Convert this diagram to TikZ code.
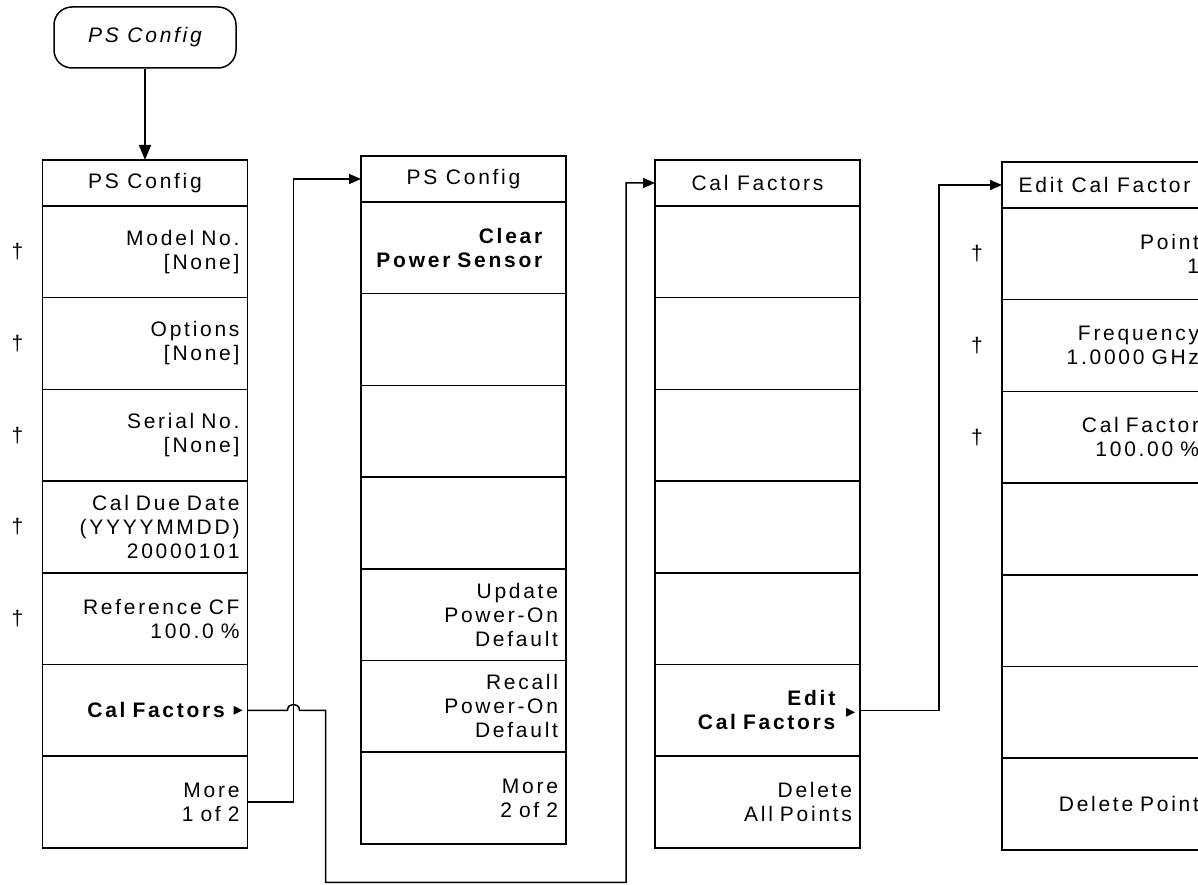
\documentclass[tikz,border=0pt]{standalone}
\usepackage{fontspec}
\setmainfont{Liberation Sans}[LetterSpace=13]
\usetikzlibrary{positioning,arrows.meta,calc}

\begin{document}
\begin{tikzpicture}[x=1pt, y=-1pt,
    startkey/.style={rectangle, draw=black, line width=1.5pt, rounded corners=18pt,
                     minimum width=182pt, minimum height=61pt,
                     font=\fontsize{21}{24}\selectfont\itshape},
    menuhead/.style={rectangle, draw=black, line width=1.5pt, outer sep=0pt, inner sep=0pt,
                     minimum width=205pt, minimum height=46pt,
                     font=\fontsize{21}{24}\selectfont},
    softkey/.style={rectangle, draw=black, line width=1.5pt, outer sep=0pt,
                    inner xsep=8pt, inner ysep=0pt, text width=189pt, minimum height=91.7pt,
                    align=right, font=\fontsize{21}{24}\selectfont},
    dagger/.style={inner sep=0pt, font=\fontsize{21}{24}\selectfont},
    arrow/.style={-{Triangle[length=12pt, width=10pt]}, line width=1.5pt},
    bigarrow/.style={-{Triangle[length=15pt, width=12pt]}, line width=1.5pt}
]
    \useasboundingbox (0,0) rectangle (1198,885);
    \clip (0,0) rectangle (1198,885);

    \node[startkey] (start) at (145,37.5) {PS Config};

    % PS Config, page 1
    \node[menuhead] (pA0) at (145,183) {PS Config};
    \node[softkey, below=0pt of pA0] (pA1) {Model No.\\{}[None]};
    \node[softkey, below=0pt of pA1] (pA2) {Options\\{}[None]};
    \node[softkey, below=0pt of pA2] (pA3) {Serial No.\\{}[None]};
    \node[softkey, below=0pt of pA3] (pA4) {Cal Due Date\\(YYYYMMDD)\\20000101};
    \node[softkey, below=0pt of pA4] (pA5) {Reference CF\\100.0 \%};
    \node[softkey, below=0pt of pA5] (pA6) {\textbf{Cal Factors}\rule{12pt}{0pt}};
    \node[softkey, below=0pt of pA6] (pA7) {More\\1 of 2};

    % PS Config, page 2
    \node[menuhead] (pB0) at (463.5,179) {PS Config};
    \node[softkey, below=0pt of pB0] (pB1) {\textbf{Clear}\rule{13pt}{0pt}\\\textbf{Power Sensor}\rule{13pt}{0pt}};
    \node[softkey, below=0pt of pB1] (pB2) {};
    \node[softkey, below=0pt of pB2] (pB3) {};
    \node[softkey, below=0pt of pB3] (pB4) {};
    \node[softkey, below=0pt of pB4] (pB5) {Update\\Power-On\\Default};
    \node[softkey, below=0pt of pB5] (pB6) {Recall\\Power-On\\Default};
    \node[softkey, below=0pt of pB6] (pB7) {More\\2 of 2};

    % Cal Factors
    \node[menuhead] (cf0) at (757.5,183) {Cal Factors};
    \node[softkey, below=0pt of cf0] (cf1) {};
    \node[softkey, below=0pt of cf1] (cf2) {};
    \node[softkey, below=0pt of cf2] (cf3) {};
    \node[softkey, below=0pt of cf3] (cf4) {};
    \node[softkey, below=0pt of cf4] (cf5) {};
    \node[softkey, below=0pt of cf5] (cf6) {\textbf{Edit}\rule{14pt}{0pt}\\\textbf{Cal Factors}\rule{14pt}{0pt}};
    \node[softkey, below=0pt of cf6] (cf7) {Delete\\All Points};

    % Edit Cal Factor
    \node[menuhead] (ed0) at (1104.5,185) {Edit Cal Factor};
    \node[softkey, below=0pt of ed0] (ed1) {Point\\1};
    \node[softkey, below=0pt of ed1] (ed2) {Frequency\\1.0000 GHz};
    \node[softkey, below=0pt of ed2] (ed3) {Cal Factor\\100.00 \%};
    \node[softkey, below=0pt of ed3] (ed4) {};
    \node[softkey, below=0pt of ed4] (ed5) {};
    \node[softkey, below=0pt of ed5] (ed6) {};
    \node[softkey, below=0pt of ed6] (ed7) {Delete Point};

    \foreach \k in {1,...,5}
        \node[dagger, left=19pt of pA\k] (dA\k) {†};
    \foreach \k in {1,...,3}
        \node[dagger, left=19pt of ed\k] (dE\k) {†};

    \fill ($(pA6.east)+(-5,0)$) -- ++(-9,-4.5) -- ++(0,9) -- cycle;
    \fill ($(cf6.east)+(-5,2)$) -- ++(-9,-4.5) -- ++(0,9) -- cycle;

    \draw[bigarrow] (start) -- (pA0);
    \draw[arrow] (pA7.east) -- ++(46,0) |- (pB0.west);
    \draw[arrow] (pA6.east) -- ++(40,0) .. controls +(0,-8) and +(0,-8) .. ++(12,0)
        -- ++(26,0) -- ++(0,172) -| ($(cf0.west)+(-29,0)$) -- (cf0.west);
    \draw[arrow] (cf6.east) -- ++(79,0) |- (ed0.west);
\end{tikzpicture}
\end{document}
